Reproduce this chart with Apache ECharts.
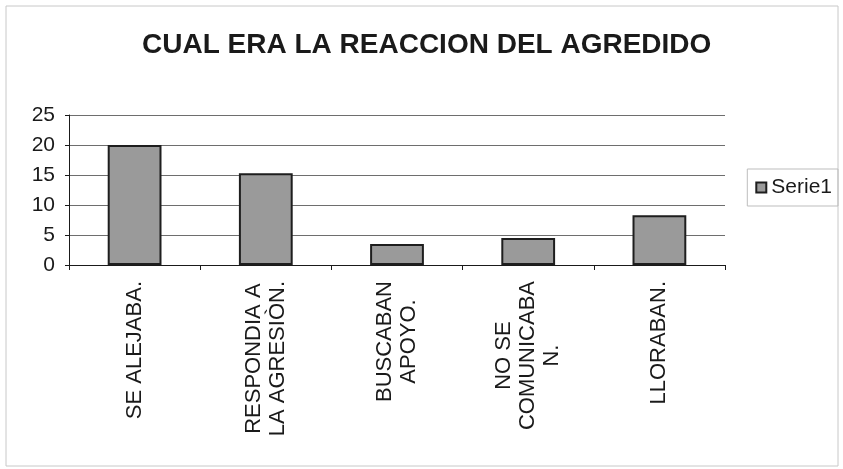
<!DOCTYPE html>
<html lang="es" style="height:100%">
<head>
    <meta charset="UTF-8">
    <title>CUAL ERA LA REACCION DEL AGREDIDO</title>
    <script src="https://cdn.jsdelivr.net/npm/echarts@6/dist/echarts.min.js"></script>
</head>
<body style="height:100%;margin:0">
<div id="main" style="width:843px;height:469px;"></div>
<script type="text/javascript">
    // datos
    var categorias = ['SE ALEJABA.', 'RESPONDIA A\nLA AGRESIÒN.', 'BUSCABAN\nAPOYO.', 'NO SE\nCOMUNICABA\nN.', 'LLORABAN.'];
    var serie1 = [20, 15.3, 3.5, 4.5, 8.3];
    var ticksY = [0, 5, 10, 15, 20, 25];

    var fuente = 'Liberation Sans, Arial, sans-serif';
    var myChart = echarts.init(document.getElementById('main'));
    var option = {
        backgroundColor: '#fff',
        animation: false,
        title: {
            text: 'CUAL ERA LA REACCION DEL AGREDIDO',
            left: 137,
            top: 26,
            textStyle: {fontSize: 28, fontWeight: 'bold', color: '#1a1a1a', fontFamily: fuente}
        },
        graphic: [{
            type: 'rect',
            shape: {x: 6, y: 6, width: 832, height: 460},
            style: {fill: 'none', stroke: '#c8c8c8', lineWidth: 1}
        }],
        legend: {
            data: ['Serie1'],
            right: 5,
            top: 169,
            orient: 'vertical',
            icon: 'rect',
            itemWidth: 10,
            itemHeight: 10,
            itemGap: 4,
            padding: [8, 6, 8, 8],
            borderColor: '#bdbdbd',
            borderWidth: 1,
            textStyle: {fontSize: 21, color: '#1a1a1a', fontFamily: fuente}
        },
        grid: {left: 69, right: 118, top: 115, bottom: 204},
        xAxis: {
            type: 'category',
            data: categorias,
            axisLine: {lineStyle: {color: '#1a1a1a', width: 1}},
            axisTick: {show: true, length: 5, lineStyle: {color: '#1a1a1a'}},
            axisLabel: {
                rotate: 90,
                margin: 16,
                interval: 0,
                color: '#1a1a1a',
                fontSize: 22,
                fontFamily: fuente,
                formatter: function (v) {
                    return v.split('\n').map(function (s) { return '{c|' + s + '}'; }).join('\n');
                },
                rich: {c: {align: 'center', fontSize: 22, fontFamily: fuente, color: '#1a1a1a', lineHeight: 24}}
            }
        },
        yAxis: {
            type: 'value',
            min: ticksY[0],
            max: ticksY[ticksY.length - 1],
            interval: 5,
            axisLine: {show: true, lineStyle: {color: '#1a1a1a', width: 1}},
            axisTick: {show: true, length: 4, lineStyle: {color: '#1a1a1a'}},
            axisLabel: {margin: 14, color: '#1a1a1a', fontSize: 21, fontFamily: fuente},
            splitLine: {lineStyle: {color: '#6e6e6e', width: 1}}
        },
        series: [{
            name: 'Serie1',
            type: 'bar',
            data: serie1,
            barWidth: '41%',
            itemStyle: {color: '#9a9a9a', borderColor: '#1e1e1e', borderWidth: 2}
        }]
    };
    myChart.setOption(option);
</script>
</body>
</html>
